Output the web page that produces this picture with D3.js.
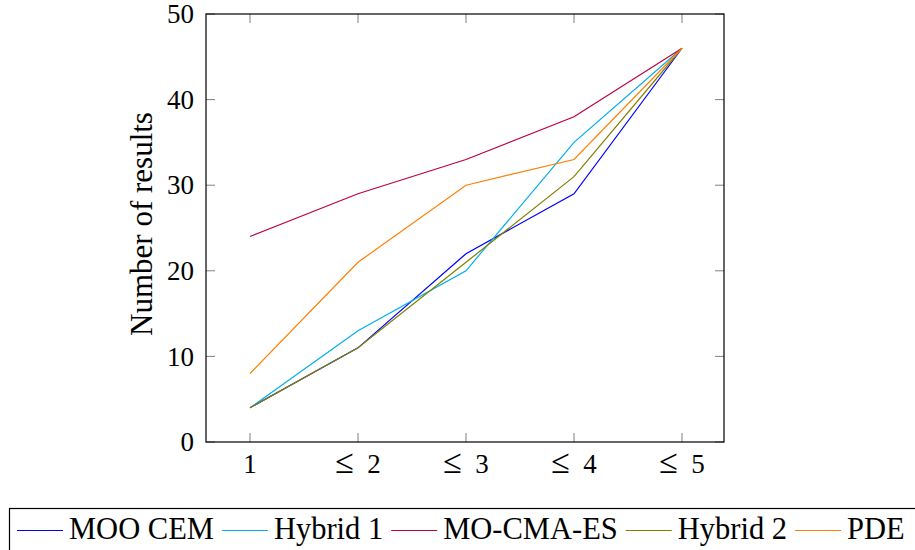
<!DOCTYPE html>
<html>
<head>
<meta charset="utf-8">
<script src="https://cdn.jsdelivr.net/npm/d3@7"></script>
<style>
  body { margin: 0; background: #fff; }
  text { font-family: "Liberation Serif", "DejaVu Serif", serif; fill: #000; }
</style>
</head>
<body>
<svg width="915" height="550"></svg>
<script>
var categories = ["1", "≤ 2", "≤ 3", "≤ 4", "≤ 5"];
var yTicks = [0, 10, 20, 30, 40, 50];
var seriesNames = ["MOO CEM", "Hybrid 1", "MO-CMA-ES", "Hybrid 2", "PDE"];
var seriesColors = ["#0000ff", "#00aeef", "#bf0040", "#808000", "#ff8000"];
var mooCem   = [4, 11, 22, 29, 46];
var hybrid1  = [4, 13, 20, 35, 46];
var moCmaEs  = [24, 29, 33, 38, 46];
var hybrid2  = [4, 11, 21, 31, 46];
var pde      = [8, 21, 30, 33, 46];

var seriesValues = [mooCem, hybrid1, moCmaEs, hybrid2, pde];

var svg = d3.select("svg");
var margin = {top: 14, left: 206};
var width = 518;
var height = 428;

var x = d3.scalePoint().domain(categories).range([44, width - 42]);
var y = d3.scaleLinear().domain([0, 50]).range([height, 0]);

var g = svg.append("g")
  .attr("transform", "translate(" + margin.left + "," + margin.top + ")");

var tickLen = 9;

// ticks inside the box, gray like pgfplots
g.append("g").selectAll("line").data(categories).enter().append("line")
  .attr("x1", function(d) { return x(d); }).attr("x2", function(d) { return x(d); })
  .attr("y1", height).attr("y2", height - tickLen)
  .attr("stroke", "#808080").attr("stroke-width", 1);
g.append("g").selectAll("line").data(categories).enter().append("line")
  .attr("x1", function(d) { return x(d); }).attr("x2", function(d) { return x(d); })
  .attr("y1", 0).attr("y2", tickLen)
  .attr("stroke", "#808080").attr("stroke-width", 1);
g.append("g").selectAll("line").data(yTicks).enter().append("line")
  .attr("x1", 0).attr("x2", tickLen)
  .attr("y1", function(d) { return y(d); }).attr("y2", function(d) { return y(d); })
  .attr("stroke", "#808080").attr("stroke-width", 1);
g.append("g").selectAll("line").data(yTicks).enter().append("line")
  .attr("x1", width).attr("x2", width - tickLen)
  .attr("y1", function(d) { return y(d); }).attr("y2", function(d) { return y(d); })
  .attr("stroke", "#808080").attr("stroke-width", 1);

// tick labels; the ≤ sign is drawn a bit larger, like the TeX original
var xLabels = g.append("g").selectAll("text").data(categories).enter().append("text")
  .attr("x", function(d) { return x(d); })
  .attr("y", height + 31)
  .attr("text-anchor", "middle")
  .style("font-size", "27px");
xLabels.each(function(d) {
  var parts = d.split(" ");
  var t = d3.select(this);
  if (parts.length > 1) {
    t.append("tspan").style("font-size", "34px").text(parts[0]);
    t.append("tspan").text("\u2002" + parts[1]);
  } else {
    t.text(d);
  }
});
g.append("g").selectAll("text").data(yTicks).enter().append("text")
  .attr("x", -12)
  .attr("y", function(d) { return y(d); })
  .attr("dy", "0.34em")
  .attr("text-anchor", "end")
  .style("font-size", "27px")
  .text(function(d) { return d; });

// axis title
g.append("text")
  .attr("transform", "rotate(-90)")
  .attr("x", -210)
  .attr("y", -54)
  .attr("text-anchor", "middle")
  .style("font-size", "31px")
  .text("Number of results");

// lines
var line = d3.line()
  .x(function(d, i) { return x(categories[i]); })
  .y(function(d) { return y(d); });

g.selectAll(".series").data(seriesValues).enter().append("path")
  .attr("class", "series")
  .attr("fill", "none")
  .attr("stroke", function(d, i) { return seriesColors[i]; })
  .attr("stroke-width", 1.2)
  .attr("d", line);

// frame
g.append("rect")
  .attr("width", width).attr("height", height)
  .attr("fill", "none").attr("stroke", "#000").attr("stroke-width", 1.2);

// legend
var legend = svg.append("g");
legend.append("rect")
  .attr("x", 9.5).attr("y", 508.5)
  .attr("width", 920).attr("height", 50)
  .attr("fill", "#fff").attr("stroke", "#000").attr("stroke-width", 1.2);

var lx = 17;
seriesNames.forEach(function(name, i) {
  legend.append("line")
    .attr("x1", lx).attr("x2", lx + 46)
    .attr("y1", 530.5).attr("y2", 530.5)
    .attr("stroke", seriesColors[i]).attr("stroke-width", 1.2);
  var t = legend.append("text")
    .attr("x", lx + 52).attr("y", 539)
    .style("font-size", "30.5px")
    .text(name);
  lx += 52 + t.node().getComputedTextLength() + 8;
});
</script>
</body>
</html>
